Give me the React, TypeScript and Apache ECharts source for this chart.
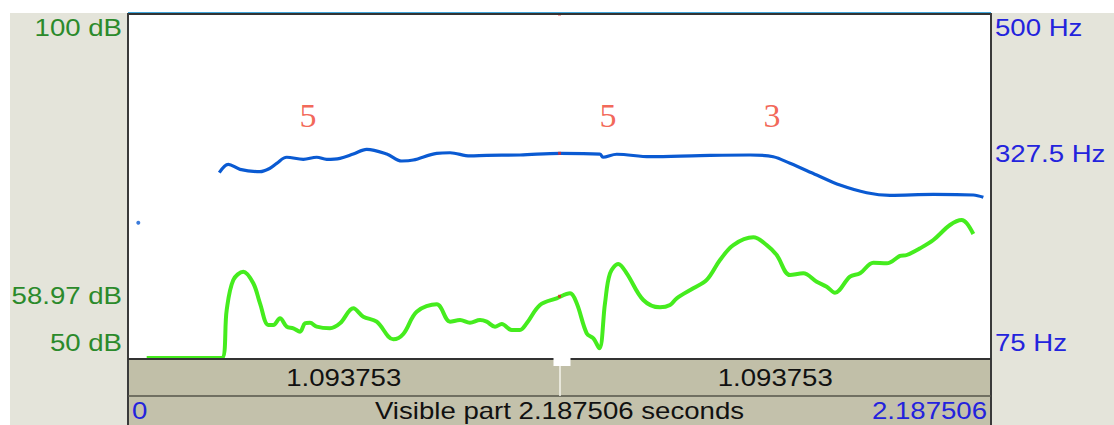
import React, { useEffect, useRef } from "react";
import * as echarts from "echarts";

// Time span of the visible window (seconds) and the cursor position
const VISIBLE_END = 2.187506;
const CURSOR_TIME = 1.093753;
const AFTER_CURSOR = 1.093753;

// Axis ranges
const DB_MIN = 50;
const DB_MAX = 100;
const DB_CURSOR_LABEL = 58.97;
const HZ_MIN = 75;
const HZ_MAX = 500;
const HZ_MID_LABEL = 327.5;

// Pitch contour (Hz)
const pitchTime = [
  0.2314, 0.2542, 0.2839, 0.3346, 0.3599, 0.3769, 0.4023, 0.4444, 0.4783, 0.5037,
  0.5374, 0.5711, 0.6051, 0.6558, 0.6938, 0.7232, 0.7825, 0.8162, 0.8669, 0.9092,
  0.9936, 1.095, 1.1964, 1.204, 1.2388, 1.3232, 1.4499, 1.5767, 1.6357, 1.678,
  1.7457, 1.8047, 1.8724, 1.9315, 2.0413, 2.1427, 2.1681,
];
const pitchHz = [
  303.9, 314.3, 308.1, 305.2, 309.4, 315.5, 323.0, 320.5, 323.0, 320.5,
  321.7, 327.0, 332.8, 327.0, 318.4, 319.6, 327.9, 328.6, 324.6, 325.4,
  325.8, 327.9, 327.0, 323.0, 326.7, 323.7, 325.0, 325.8, 323.7, 315.5,
  301.1, 288.7, 279.2, 276.0, 277.2, 276.4, 273.5,
];
// Isolated pitch frame near the start
const strayPitchTime = [0.0261];
const strayPitchHz = [242.2];

// Intensity contour (dB)
const intTime = [
  0.0474, 0.2375, 0.2502, 0.2669, 0.2923, 0.3176, 0.3346, 0.3556, 0.3683, 0.3853,
  0.4023, 0.419, 0.436, 0.4487, 0.4613, 0.4783, 0.512, 0.5374, 0.5711, 0.5965,
  0.6304, 0.6725, 0.6978, 0.7318, 0.7825, 0.8162, 0.8416, 0.8669, 0.8923, 0.9092,
  0.9303, 0.9473, 0.9726, 0.9936, 1.0106, 1.0443, 1.0867, 1.1204, 1.1374, 1.1627,
  1.1794, 1.1947, 1.2091, 1.2218, 1.2428, 1.2641, 1.3062, 1.3485, 1.3739, 1.3909,
  1.4329, 1.4669, 1.5006, 1.5343, 1.585, 1.619, 1.6443, 1.678, 1.7117, 1.7457,
  1.7711, 1.7921, 1.8301, 1.8555, 1.8892, 1.9232, 1.9569, 1.9739, 2.0076, 2.0413,
  2.0836, 2.1133, 2.126, 2.1427,
];
const intDb = [
  50, 50, 56.98, 61.34, 62.54, 60.86, 57.95, 54.8, 54.8, 55.77,
  54.55, 54.32, 53.82, 55.04, 55.13, 54.55, 54.32, 55.04, 57.22, 56.0,
  55.28, 52.72, 53.49, 56.73, 57.81, 55.28, 55.52, 55.13, 55.52, 55.28,
  54.55, 54.94, 54.07, 54.07, 55.04, 57.7, 58.68, 59.4, 57.95, 53.59,
  52.86, 51.41, 57.95, 62.31, 63.66, 62.31, 58.43, 57.37, 57.7, 58.68,
  60.13, 61.34, 64.24, 66.42, 67.54, 66.42, 64.97, 62.06, 62.31, 61.09,
  60.36, 59.49, 61.82, 62.31, 63.85, 63.76, 64.83, 64.97, 65.94, 67.15,
  69.33, 70.06, 69.58, 68.02,
];

// Tone numbers written above the contour
const toneLabels = ["5", "5", "3"];
const toneTime = [0.4563, 1.2167, 1.6324];
const toneLevelDb = 85.3;

// Cursor crossings: top edge and intensity curve (dB), pitch curve (Hz)
const cursorDb = [100, 58.97];
const cursorHz = [327.9];

const GREEN_TEXT = "#2b8a2b";
const BLUE_TEXT = "#2323dd";
const FONT = "'Liberation Sans', Arial, sans-serif";
const STRETCH = 1.2;

export default function App() {
  const ref = useRef<HTMLDivElement>(null);

  useEffect(() => {
    if (!ref.current) return;
    const chart = echarts.init(ref.current, null, { renderer: "svg" });

    chart.setOption({
      animation: false,
      backgroundColor: "#ffffff",
      grid: { left: 128, top: 14, width: 863, height: 344, show: false },
      xAxis: { type: "value", min: 0, max: VISIBLE_END, show: false },
      yAxis: [
        { type: "value", min: DB_MIN, max: DB_MAX, show: false },
        { type: "value", min: HZ_MIN, max: HZ_MAX, show: false },
      ],
      series: [
        {
          type: "line",
          name: "intensity",
          yAxisIndex: 0,
          data: intTime.map((t, i) => [t, intDb[i]]),
          showSymbol: false,
          smooth: 0.35,
          lineStyle: { color: "#45ec1e", width: 4 },
          z: 3,
        },
        {
          type: "line",
          name: "pitch",
          yAxisIndex: 1,
          data: pitchTime.map((t, i) => [t, pitchHz[i]]),
          showSymbol: false,
          smooth: 0.35,
          lineStyle: { color: "#0a5ad2", width: 3.2 },
          z: 3,
        },
        {
          type: "scatter",
          yAxisIndex: 1,
          data: strayPitchTime.map((t, i) => [t, strayPitchHz[i]]),
          symbolSize: 4,
          itemStyle: { color: "#0a5ad2" },
          z: 3,
        },
        {
          type: "scatter",
          yAxisIndex: 0,
          data: cursorDb.map((v) => [CURSOR_TIME, v]),
          symbol: "rect",
          symbolSize: [3, 3],
          itemStyle: { color: "#e02424" },
          z: 5,
        },
        {
          type: "scatter",
          yAxisIndex: 1,
          data: cursorHz.map((v) => [CURSOR_TIME, v]),
          symbol: "rect",
          symbolSize: [3, 3],
          itemStyle: { color: "#e02424" },
          z: 5,
        },
        {
          type: "scatter",
          yAxisIndex: 0,
          data: toneTime.map((t, i) => ({ value: [t, toneLevelDb], name: toneLabels[i] })),
          symbolSize: 0,
          label: {
            show: true,
            position: "inside",
            formatter: (p: any) => p.name,
            fontFamily: "'Liberation Serif', 'Times New Roman', serif",
            fontSize: 34,
            color: "#ef3f2c",
          },
          z: 4,
        },
      ],
    });

    const px = (v: number) => chart.convertToPixel({ xAxisIndex: 0 }, v) as number;
    const pyDb = (v: number) => chart.convertToPixel({ yAxisIndex: 0 }, v) as number;
    const pyHz = (v: number) => chart.convertToPixel({ yAxisIndex: 1 }, v) as number;

    const left = px(0);
    const right = px(VISIBLE_END);
    const cursorX = px(CURSOR_TIME);
    const top = pyDb(DB_MAX);
    const bottom = pyDb(DB_MIN);
    const bar1Bottom = bottom + 38;
    const fullH = 425;

    const label = (text: string, x: number, y: number, color: string, align: string) => ({
      type: "text",
      x,
      y,
      scaleX: STRETCH,
      z: 10,
      style: {
        text,
        fill: color,
        font: `23px ${FONT}`,
        align,
        verticalAlign: "middle",
      },
    });

    chart.setOption({
      graphic: [
        // side panels
        { type: "rect", shape: { x: 10, y: top - 1, width: left - 10, height: fullH }, style: { fill: "#e4e4da" }, z: 1 },
        { type: "rect", shape: { x: right, y: top - 1, width: 1114 - right, height: fullH }, style: { fill: "#e4e4da" }, z: 1 },
        // time bars under the plot
        { type: "rect", shape: { x: left, y: bottom, width: right - left, height: bar1Bottom - bottom }, style: { fill: "#c1bfa8" }, z: 1 },
        { type: "rect", shape: { x: left, y: bar1Bottom, width: right - left, height: fullH - bar1Bottom }, style: { fill: "#c3c1ab" }, z: 1 },
        // frame lines
        { type: "line", shape: { x1: left, y1: top - 1.5, x2: right, y2: top - 1.5 }, style: { stroke: "#3fa6dc", lineWidth: 1 }, z: 6 },
        { type: "line", shape: { x1: left, y1: top, x2: right, y2: top }, style: { stroke: "#333333", lineWidth: 2 }, z: 6 },
        { type: "line", shape: { x1: left, y1: top - 1, x2: left, y2: fullH }, style: { stroke: "#3a3a3a", lineWidth: 2 }, z: 6 },
        { type: "line", shape: { x1: right, y1: top - 1, x2: right, y2: fullH }, style: { stroke: "#3a3a3a", lineWidth: 2 }, z: 6 },
        { type: "line", shape: { x1: left, y1: bottom + 1, x2: right, y2: bottom + 1 }, style: { stroke: "#333333", lineWidth: 2 }, z: 6 },
        { type: "line", shape: { x1: left, y1: bar1Bottom, x2: right, y2: bar1Bottom }, style: { stroke: "#55554a", lineWidth: 1.5 }, z: 6 },
        // cursor divider and marker
        { type: "line", shape: { x1: cursorX + 0.5, y1: bottom + 2, x2: cursorX + 0.5, y2: bar1Bottom }, style: { stroke: "#f4f4ec", lineWidth: 1.5 }, z: 6 },
        { type: "rect", shape: { x: cursorX - 6, y: bottom - 1, width: 17, height: 9 }, style: { fill: "#ffffff" }, z: 7 },
        // left axis (intensity)
        label("100 dB", 122, top + 14, GREEN_TEXT, "right"),
        label(`${DB_CURSOR_LABEL} dB`, 122, pyDb(DB_CURSOR_LABEL), GREEN_TEXT, "right"),
        label("50 dB", 122, bottom - 15, GREEN_TEXT, "right"),
        // right axis (pitch)
        label("500 Hz", right + 4, top + 14, BLUE_TEXT, "left"),
        label(`${HZ_MID_LABEL} Hz`, right + 4, pyHz(HZ_MID_LABEL), BLUE_TEXT, "left"),
        label("75 Hz", right + 4, bottom - 15, BLUE_TEXT, "left"),
        // time bars
        label(String(CURSOR_TIME), (left + cursorX) / 2, bottom + 20, "#111111", "center"),
        label(String(AFTER_CURSOR), (cursorX + right) / 2, bottom + 20, "#111111", "center"),
        label("0", left + 4, bar1Bottom + 15, BLUE_TEXT, "left"),
        label(`Visible part ${VISIBLE_END} seconds`, (left + right) / 2, bar1Bottom + 15, "#111111", "center"),
        label(String(VISIBLE_END), right - 4, bar1Bottom + 15, BLUE_TEXT, "right"),
      ],
    });

    return () => chart.dispose();
  }, []);

  return (
    <div
      ref={ref}
      style={{ position: "fixed", left: 0, top: 0, width: 1114, height: 425 }}
    />
  );
}
